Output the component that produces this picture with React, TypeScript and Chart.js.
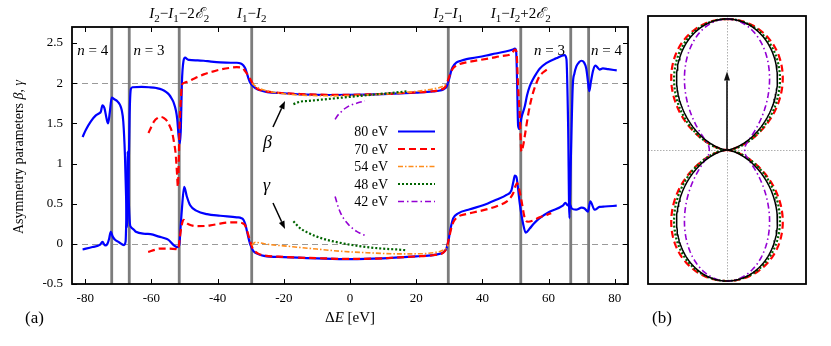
import { useEffect, useRef } from 'react';
import { Chart, registerables } from 'chart.js';
Chart.register(...registerables);

// ---------------- data ----------------
const energies = ['80 eV', '70 eV', '54 eV', '48 eV', '42 eV'];
const thresholds = [-72, -66.7, -51.6, -29.7, 29.7, 51.6, 66.7, 72.1];
const xTicks = [-80, -60, -40, -20, 0, 20, 40, 60, 80];
const yTicks = [-0.5, 0, 0.5, 1, 1.5, 2, 2.5];
const refLines = [0, 2];

const beta80: number[][] = [
  [-80.8, 1.33], [-79.8, 1.42], [-78.3, 1.525], [-76.8, 1.6], [-75.8, 1.625], [-75.3, 1.645], [-74.8, 1.725],
  [-74.2, 1.69], [-73.5, 1.55], [-73.1, 1.5], [-72.6, 1.63], [-72.0, 1.82], [-71.2, 1.8], [-70.3, 1.775],
  [-69.5, 1.73], [-69.0, 1.67], [-68.5, 1.52], [-68.0, 1.1], [-67.6, 0.5], [-67.3, 0.21], [-67.0, 0.6],
  [-66.6, 1.6], [-66.2, 1.93], [-65.7, 1.95], [-63, 1.955], [-60.7, 1.95], [-58.5, 1.94], [-56.7, 1.92],
  [-55.5, 1.89], [-54.7, 1.86], [-53.9, 1.81], [-53.2, 1.75], [-52.6, 1.66], [-52.2, 1.55], [-51.8, 1.35],
  [-51.4, 1.25], [-51.1, 1.45], [-50.8, 2.0], [-50.3, 2.28], [-49.8, 2.32], [-49.2, 2.3], [-48.7, 2.29],
  [-46, 2.285], [-44.2, 2.28], [-42, 2.27], [-39.2, 2.26], [-36, 2.255], [-34.2, 2.255], [-33, 2.245],
  [-32.2, 2.22], [-31.6, 2.18], [-31.2, 2.13], [-30.6, 2.05], [-30.2, 2.01], [-29.2, 1.96], [-28, 1.925],
  [-26.5, 1.905], [-25, 1.89], [-20, 1.875], [-15, 1.862], [-10, 1.856], [-5, 1.853], [0, 1.854], [5, 1.858],
  [10, 1.864], [15, 1.873], [20, 1.884], [25, 1.898], [27.2, 1.91], [28.3, 1.925], [29.2, 1.96], [30.0, 2.06],
  [30.7, 2.17], [31.5, 2.23], [32.2, 2.26], [33.5, 2.28], [35.2, 2.3], [38, 2.32], [41.2, 2.345], [44, 2.37],
  [47, 2.395], [49.2, 2.42], [49.8, 2.43], [50.2, 2.4], [50.5, 2.0], [50.8, 1.47], [51.2, 1.43], [51.8, 1.57],
  [52.8, 1.71], [53.5, 1.85], [54.3, 1.96], [55.3, 2.05], [56.3, 2.12], [57.3, 2.18], [59.3, 2.25], [62.3, 2.31],
  [64.8, 2.35], [65.4, 2.3], [65.9, 1.5], [66.3, 0.32], [66.7, 1.0], [67.3, 1.96], [67.8, 2.12], [68.4, 2.21],
  [69.2, 2.26], [69.9, 2.28], [70.7, 2.26], [71.4, 2.18], [71.9, 2.02], [72.3, 1.9], [72.8, 2.02], [73.4, 2.15],
  [74.1, 2.22], [74.7, 2.2], [75.4, 2.17], [76.4, 2.185], [78, 2.175], [80.6, 2.16],
];
const gamma80: number[][] = [
  [-80.8, -0.07], [-77.8, -0.04], [-75.5, -0.01], [-74.8, 0.025], [-74.0, -0.02], [-73.3, 0.0], [-72.8, 0.06],
  [-72.3, 0.15], [-71.7, 0.09], [-71.0, 0.05], [-69.8, 0.02], [-68.3, -0.015], [-67.8, 0.03], [-67.5, 0.5],
  [-67.2, 1.15], [-66.9, 0.6], [-66.5, 0.25], [-66.2, 0.21], [-65.3, 0.175], [-64.7, 0.15], [-61.7, 0.125],
  [-60.3, 0.12], [-57.7, 0.09], [-55.3, 0.06], [-54.7, 0.045], [-53.2, -0.02], [-52.2, -0.04], [-51.6, -0.02],
  [-51.2, 0.2], [-50.8, 0.43], [-50.1, 0.71], [-49.3, 0.59], [-48.3, 0.48], [-46.3, 0.41], [-43.2, 0.37],
  [-39.2, 0.35], [-34.2, 0.33], [-32.8, 0.32], [-32.2, 0.3], [-31.6, 0.24], [-31.2, 0.17], [-30.6, 0.06],
  [-30.2, 0.0], [-29.2, -0.09], [-27.6, -0.13], [-26, -0.15], [-20, -0.165], [-10, -0.18], [0, -0.19],
  [10, -0.18], [15, -0.168], [20, -0.155], [25.1, -0.14], [27, -0.125], [28.1, -0.11], [29.2, -0.05],
  [29.8, 0.05], [30.2, 0.15], [30.7, 0.25], [31.2, 0.32], [32.7, 0.38], [36.2, 0.43], [40.2, 0.48], [44.2, 0.55],
  [47.3, 0.61], [48.8, 0.67], [49.4, 0.78], [49.8, 0.85], [50.3, 0.83], [50.8, 0.68], [51.3, 0.5], [52.3, 0.25],
  [53.1, 0.14], [54.3, 0.19], [55.5, 0.25], [57.3, 0.32], [60.3, 0.4], [64.3, 0.475], [65.1, 0.51], [65.7, 0.48],
  [66.3, 0.5], [67.0, 0.44], [68.3, 0.425], [70.0, 0.45], [70.9, 0.44], [71.9, 0.4], [72.6, 0.53], [73.9, 0.425],
  [75.4, 0.46], [77, 0.465], [80.6, 0.475],
];
const beta70: number[][] = [
  [-60.9, 1.38], [-60, 1.46], [-59.2, 1.525], [-58.2, 1.565], [-57.2, 1.58], [-56.2, 1.565], [-55.2, 1.525],
  [-54.4, 1.46], [-53.7, 1.38], [-53.2, 1.27], [-52.7, 1.13], [-52.3, 0.9], [-52.0, 0.71], [-51.7, 1.1],
  [-51.5, 1.46], [-51.1, 1.8], [-50.8, 1.98], [-49.8, 2.01], [-47, 2.06], [-44.2, 2.11], [-41.5, 2.145],
  [-39.2, 2.17], [-36.5, 2.19], [-34.2, 2.2], [-32.5, 2.19], [-31.7, 2.15], [-30.7, 2.09], [-29.6, 2.01],
  [-29.0, 1.97], [-28, 1.93], [-26, 1.905], [-25, 1.895], [-20, 1.878], [-15, 1.865], [-10, 1.858], [-5, 1.855],
  [0, 1.856], [5, 1.86], [10, 1.866], [15, 1.875], [20, 1.886], [25, 1.9], [27.5, 1.92], [28.7, 1.95],
  [29.2, 1.99], [29.8, 2.06], [30.4, 2.13], [31.2, 2.19], [32.2, 2.22], [33.2, 2.24], [35.2, 2.26], [37.2, 2.275],
  [42.2, 2.31], [46, 2.34], [48.8, 2.365], [49.4, 2.4], [49.8, 2.42], [50.3, 2.39], [50.8, 1.95], [51.3, 1.6],
  [51.8, 1.15], [52.3, 1.22], [52.8, 1.34], [53.8, 1.6], [54.5, 1.75], [55.3, 1.88], [56.3, 2.0], [57.3, 2.09],
  [58.5, 2.14], [59.8, 2.18],
];
const gamma70: number[][] = [
  [-61, -0.1], [-59, -0.075], [-57.7, -0.06], [-54.7, -0.06], [-52.5, -0.065], [-51.9, -0.07], [-51.5, 0.05],
  [-51.0, 0.2], [-50.3, 0.3], [-49.6, 0.27], [-48.8, 0.245], [-46.2, 0.22], [-44, 0.222], [-42.2, 0.23],
  [-39.5, 0.25], [-37.2, 0.265], [-35, 0.268], [-33.2, 0.265], [-32.2, 0.25], [-31.7, 0.23], [-31.0, 0.15],
  [-30.2, 0.04], [-29.6, -0.04], [-28.8, -0.09], [-27.6, -0.125], [-26, -0.145], [-20, -0.163], [-10, -0.178],
  [0, -0.188], [10, -0.18], [15, -0.168], [20, -0.157], [25, -0.142], [27, -0.128], [28.1, -0.112], [29.2, -0.05],
  [29.8, 0.05], [30.7, 0.21], [31.5, 0.29], [32.7, 0.34], [35, 0.37], [37.2, 0.39], [42.2, 0.44], [45, 0.48],
  [47.3, 0.525], [49.3, 0.63], [50.0, 0.72], [50.5, 0.755], [51.0, 0.7], [51.8, 0.54], [52.8, 0.32],
  [53.8, 0.275], [55.3, 0.29], [57.3, 0.33], [60.8, 0.38],
];
const beta54: number[][] = [
  [-29.6, 2.0], [-28.5, 1.96], [-27, 1.93], [-24, 1.895], [-20, 1.868], [-15, 1.852], [-10, 1.845], [-5, 1.843],
  [0, 1.846], [5, 1.853], [10, 1.865], [15, 1.88], [20, 1.898], [25, 1.928], [27.5, 1.952], [29.6, 2.0],
];
const gamma54: number[][] = [
  [-29.7, -0.02], [-28.6, 0.02], [-27, 0.01], [-24.1, -0.01], [-20, -0.025], [-15.1, -0.045], [-10, -0.065],
  [-5, -0.085], [0, -0.1], [5, -0.11], [10, -0.12], [15, -0.125], [20, -0.124], [23.1, -0.12], [26, -0.105],
  [27.1, -0.095], [28.5, -0.07], [29.2, -0.05], [29.7, -0.01],
];
const beta48: number[][] = [
  [-17.1, 1.74], [-15.1, 1.77], [-12.5, 1.78], [-10, 1.79], [-5, 1.81], [0, 1.83], [5, 1.85], [10, 1.87],
  [14, 1.885], [17.1, 1.9],
];
const gamma48: number[][] = [
  [-17.1, 0.28], [-15.1, 0.195], [-12.5, 0.135], [-10, 0.09], [-7.5, 0.055], [-5, 0.03], [0, -0.01], [5, -0.04],
  [10, -0.06], [14, -0.07], [17.1, -0.08],
];
const beta42: number[][] = [
  [-4.5, 1.55], [-3.8, 1.595], [-3, 1.63], [-2, 1.67], [-1, 1.7], [0.5, 1.73], [2, 1.75], [3.2, 1.765], [4.5, 1.78],
];
const gamma42: number[][] = [
  [-4.5, 0.59], [-3.5, 0.45], [-2.8, 0.38], [-2, 0.32], [-1, 0.265], [0, 0.22], [1, 0.185], [2, 0.155],
  [3.2, 0.13], [4.5, 0.105],
];

// panel (b): angular distributions from (beta, gamma)
const lobeNames = ['dipole', '70 eV', '48 eV', '42 eV'];
const betaB = [2, 1.85, 1.78, 1.55];
const gammaB = [0, -0.18, -0.06, 0.5];
const arrowLength = 0.6;

// ---------------- styles ----------------
const FONT = '"Liberation Serif", "DejaVu Serif", serif';
const styles = [
  { color: '#0000ff', dash: [] as number[], width: 2.2 },
  { color: '#ff0000', dash: [7, 4], width: 2.2 },
  { color: '#ff8c1a', dash: [5, 2, 1.5, 2], width: 1.6 },
  { color: '#006400', dash: [2, 2], width: 2.2 },
  { color: '#9400d3', dash: [6, 3, 1.5, 3], width: 1.6 },
];
const seriesSets = [
  [beta80, gamma80],
  [beta70, gamma70],
  [beta54, gamma54],
  [beta48, gamma48],
  [beta42, gamma42],
];

type Seg = { t: string; it?: boolean; sub?: boolean };
function drawRich(ctx: CanvasRenderingContext2D, segs: Seg[], x: number, y: number, size: number, align: 'center' | 'left') {
  const f = (s: Seg) => `${s.it ? 'italic ' : ''}${s.sub ? Math.round(size * 0.7) : size}px ${FONT}`;
  let total = 0;
  const ws = segs.map((s) => {
    ctx.font = f(s);
    const w = ctx.measureText(s.t).width;
    total += w;
    return w;
  });
  let cx = align === 'center' ? x - total / 2 : x;
  ctx.textAlign = 'left';
  ctx.textBaseline = 'alphabetic';
  segs.forEach((s, i) => {
    ctx.font = f(s);
    ctx.fillText(s.t, cx, s.sub ? y + size * 0.25 : y);
    cx += ws[i];
  });
}

function arrow(ctx: CanvasRenderingContext2D, x1: number, y1: number, x2: number, y2: number, head = 8) {
  const ang = Math.atan2(y2 - y1, x2 - x1);
  const bx = x2 - head * Math.cos(ang);
  const by = y2 - head * Math.sin(ang);
  ctx.beginPath();
  ctx.moveTo(x1, y1);
  ctx.lineTo(bx, by);
  ctx.stroke();
  ctx.beginPath();
  ctx.moveTo(x2, y2);
  ctx.lineTo(bx + 3 * Math.sin(ang), by - 3 * Math.cos(ang));
  ctx.lineTo(bx - 3 * Math.sin(ang), by + 3 * Math.cos(ang));
  ctx.closePath();
  ctx.fill();
}

const topLabels: { at: number; segs: Seg[] }[] = [
  { at: -51.6, segs: [{ t: 'I', it: true }, { t: '2', sub: true }, { t: '\u2212' }, { t: 'I', it: true }, { t: '1', sub: true }, { t: '\u22122' }, { t: '\u2130', it: true }, { t: '2', sub: true }] },
  { at: -29.7, segs: [{ t: 'I', it: true }, { t: '1', sub: true }, { t: '\u2212' }, { t: 'I', it: true }, { t: '2', sub: true }] },
  { at: 29.7, segs: [{ t: 'I', it: true }, { t: '2', sub: true }, { t: '\u2212' }, { t: 'I', it: true }, { t: '1', sub: true }] },
  { at: 51.6, segs: [{ t: 'I', it: true }, { t: '1', sub: true }, { t: '\u2212' }, { t: 'I', it: true }, { t: '2', sub: true }, { t: '+2' }, { t: '\u2130', it: true }, { t: '2', sub: true }] },
];
const nLabels: { at: number; n: string }[] = [
  { at: -82.4, n: '4' },
  { at: -65.4, n: '3' },
  { at: 55.6, n: '3' },
  { at: 72.8, n: '4' },
];

const mainPlugin = {
  id: 'mainAnnot',
  beforeDatasetsDraw(chart: any) {
    const { ctx, chartArea: a, scales } = chart;
    const x = scales.x, y = scales.y;
    ctx.save();
    ctx.strokeStyle = '#9a9a9a';
    ctx.lineWidth = 1;
    ctx.setLineDash([6, 4]);
    refLines.forEach((v) => {
      const py = Math.round(y.getPixelForValue(v)) + 0.5;
      ctx.beginPath();
      ctx.moveTo(a.left, py);
      ctx.lineTo(a.right, py);
      ctx.stroke();
    });
    ctx.setLineDash([]);
    ctx.strokeStyle = '#7c7c7c';
    ctx.lineWidth = 2.8;
    thresholds.forEach((v) => {
      const px = x.getPixelForValue(v);
      ctx.beginPath();
      ctx.moveTo(px, a.top);
      ctx.lineTo(px, a.bottom);
      ctx.stroke();
    });
    ctx.restore();
  },
  afterDraw(chart: any) {
    const { ctx, chartArea: a, scales } = chart;
    const x = scales.x, y = scales.y;
    ctx.save();
    ctx.fillStyle = '#000';
    ctx.strokeStyle = '#000';
    // inward ticks
    ctx.lineWidth = 1;
    xTicks.forEach((v) => {
      const px = Math.round(x.getPixelForValue(v)) + 0.5;
      ctx.beginPath();
      ctx.moveTo(px, a.bottom); ctx.lineTo(px, a.bottom - 5);
      ctx.moveTo(px, a.top); ctx.lineTo(px, a.top + 5);
      ctx.stroke();
    });
    yTicks.forEach((v) => {
      const py = Math.round(y.getPixelForValue(v)) + 0.5;
      ctx.beginPath();
      ctx.moveTo(a.left, py); ctx.lineTo(a.left + 5, py);
      ctx.moveTo(a.right, py); ctx.lineTo(a.right - 5, py);
      ctx.stroke();
    });
    // frame
    ctx.lineWidth = 1.8;
    ctx.strokeRect(a.left, a.top, a.right - a.left, a.bottom - a.top);

    // top labels
    topLabels.forEach((l) => drawRich(ctx, l.segs, x.getPixelForValue(l.at), 18, 15, 'center'));
    // n labels
    nLabels.forEach((l) => drawRich(ctx, [{ t: 'n', it: true }, { t: ' = ' + l.n }], x.getPixelForValue(l.at), 55, 15, 'left'));

    // beta / gamma labels and arrows
    drawRich(ctx, [{ t: '\u03b2', it: true }], 263, 148, 18, 'left');
    drawRich(ctx, [{ t: '\u03b3', it: true }], 263, 191, 18, 'left');
    ctx.lineWidth = 1.5;
    arrow(ctx, 273, 127, 285, 101);
    arrow(ctx, 273, 203, 285, 229);

    // legend
    energies.forEach((e, i) => {
      const ly = 131.5 + i * 17.5;
      ctx.font = `14px ${FONT}`;
      ctx.textAlign = 'right';
      ctx.textBaseline = 'middle';
      ctx.fillStyle = '#000';
      ctx.fillText(e, 388, ly + 1);
      const s = styles[i];
      ctx.strokeStyle = s.color;
      ctx.lineWidth = s.width;
      ctx.setLineDash(s.dash);
      ctx.beginPath();
      ctx.moveTo(398, ly);
      ctx.lineTo(435, ly);
      ctx.stroke();
      ctx.setLineDash([]);
    });

    // axis titles
    ctx.fillStyle = '#000';
    drawRich(ctx, [{ t: '\u0394' }, { t: 'E', it: true }, { t: ' [eV]' }], x.getPixelForValue(0), 322, 15, 'center');
    ctx.save();
    ctx.translate(23, 157);
    ctx.rotate(-Math.PI / 2);
    drawRich(ctx, [{ t: 'Asymmetry parameters ' }, { t: '\u03b2', it: true }, { t: ', ' }, { t: '\u03b3', it: true }], 0, 0, 14, 'center');
    ctx.restore();
    drawRich(ctx, [{ t: '(a)' }], 25, 323, 17, 'left');
    ctx.restore();
  },
};

const bPlugin = {
  id: 'bAnnot',
  beforeDatasetsDraw(chart: any) {
    const { ctx, chartArea: a, scales } = chart;
    const cx = scales.x.getPixelForValue(0);
    const cy = scales.y.getPixelForValue(0);
    ctx.save();
    ctx.strokeStyle = '#9a9a9a';
    ctx.lineWidth = 0.8;
    ctx.setLineDash([1.5, 1.5]);
    ctx.beginPath();
    ctx.moveTo(Math.round(cx) + 0.5, a.top); ctx.lineTo(Math.round(cx) + 0.5, a.bottom);
    ctx.moveTo(a.left, Math.round(cy) + 0.5); ctx.lineTo(a.right, Math.round(cy) + 0.5);
    ctx.stroke();
    ctx.restore();
  },
  afterDraw(chart: any) {
    const { ctx, chartArea: a, scales } = chart;
    const cx = scales.x.getPixelForValue(0);
    const cy = scales.y.getPixelForValue(0);
    const ty = scales.y.getPixelForValue(arrowLength);
    ctx.save();
    ctx.fillStyle = '#111';
    ctx.strokeStyle = '#111';
    ctx.lineWidth = 1.6;
    arrow(ctx, cx, cy, cx, ty, 9);
    ctx.strokeStyle = '#000';
    ctx.lineWidth = 1.8;
    ctx.strokeRect(a.left, a.top, a.right - a.left, a.bottom - a.top);
    ctx.fillStyle = '#000';
    drawRich(ctx, [{ t: '(b)' }], a.left + 4, 323, 17, 'left');
    ctx.restore();
  },
};

function lobe(beta: number, gamma: number) {
  const I = (c: number) => 1 + (beta * (3 * c * c - 1)) / 2 + (gamma * (35 * c ** 4 - 30 * c * c + 3)) / 8;
  const I0 = I(1);
  const pts: { x: number; y: number }[] = [];
  for (let d = 0; d <= 360; d += 1) {
    const t = (d * Math.PI) / 180;
    const c = Math.cos(t);
    const r = I(c) / I0;
    pts.push({ x: r * Math.sin(t), y: r * c });
  }
  return pts;
}

export default function App() {
  const mainRef = useRef<HTMLCanvasElement>(null);
  const bRef = useRef<HTMLCanvasElement>(null);

  useEffect(() => {
    const datasets: any[] = [];
    seriesSets.forEach((pair, i) => {
      pair.forEach((arr, j) => {
        datasets.push({
          label: energies[i] + (j === 0 ? ' beta' : ' gamma'),
          data: arr.map(([x, y]) => ({ x, y })),
          showLine: true,
          borderColor: styles[i].color,
          borderWidth: styles[i].width,
          borderDash: styles[i].dash,
          pointRadius: 0,
          fill: false,
          cubicInterpolationMode: 'monotone',
          order: 5 - i,
        });
      });
    });
    const main = new Chart(mainRef.current!, {
      type: 'scatter',
      data: { datasets },
      plugins: [mainPlugin],
      options: {
        animation: false,
        responsive: false,
        layout: { padding: { top: 27, right: 203, left: 0, bottom: 0 } },
        plugins: { legend: { display: false }, tooltip: { enabled: false } },
        scales: {
          x: {
            type: 'linear',
            min: -84,
            max: 84,
            afterBuildTicks: (s: any) => { s.ticks = xTicks.map((v) => ({ value: v })); },
            afterFit: (s: any) => { s.height = 62; },
            grid: { display: false, drawTicks: false },
            border: { display: false },
            ticks: { color: '#000', padding: 7, autoSkip: false, maxRotation: 0, font: { family: FONT, size: 13 }, callback: (v: any) => String(v) },
          },
          y: {
            type: 'linear',
            min: -0.5,
            max: 2.7,
            afterBuildTicks: (s: any) => { s.ticks = yTicks.map((v) => ({ value: v })); },
            afterFit: (s: any) => { s.width = 72; },
            grid: { display: false, drawTicks: false },
            border: { display: false },
            ticks: { color: '#000', padding: 9, autoSkip: false, font: { family: FONT, size: 13 }, callback: (v: any) => String(v) },
          },
        },
      },
    });

    const bStyles = [
      { color: '#000000', dash: [] as number[], width: 1.5 },
      styles[1],
      styles[3],
      styles[4],
    ];
    const bData = betaB.map((b, i) => ({
      label: lobeNames[i],
      data: lobe(b, gammaB[i]),
      showLine: true,
      borderColor: bStyles[i].color,
      borderWidth: bStyles[i].width,
      borderDash: bStyles[i].dash,
      pointRadius: 0,
      fill: false,
      tension: 0,
      order: i === 0 ? 0 : 4 - i,
    }));
    const bChart = new Chart(bRef.current!, {
      type: 'scatter',
      data: { datasets: bData },
      plugins: [bPlugin],
      options: {
        animation: false,
        responsive: false,
        layout: { padding: { top: 16, right: 25, left: 8, bottom: 62 } },
        plugins: { legend: { display: false }, tooltip: { enabled: false } },
        scales: {
          x: { type: 'linear', min: -0.603, max: 0.603, display: false },
          y: { type: 'linear', min: -1.023, max: 1.023, display: false },
        },
      },
    });
    return () => {
      main.destroy();
      bChart.destroy();
    };
  }, []);

  return (
    <div style={{ position: 'fixed', left: 0, top: 0, width: 831, height: 346, background: '#fff' }}>
      <canvas ref={mainRef} width={831} height={346} style={{ position: 'absolute', left: 0, top: 0, width: 831, height: 346 }} />
      <canvas ref={bRef} width={191} height={346} style={{ position: 'absolute', left: 640, top: 0, width: 191, height: 346 }} />
    </div>
  );
}
